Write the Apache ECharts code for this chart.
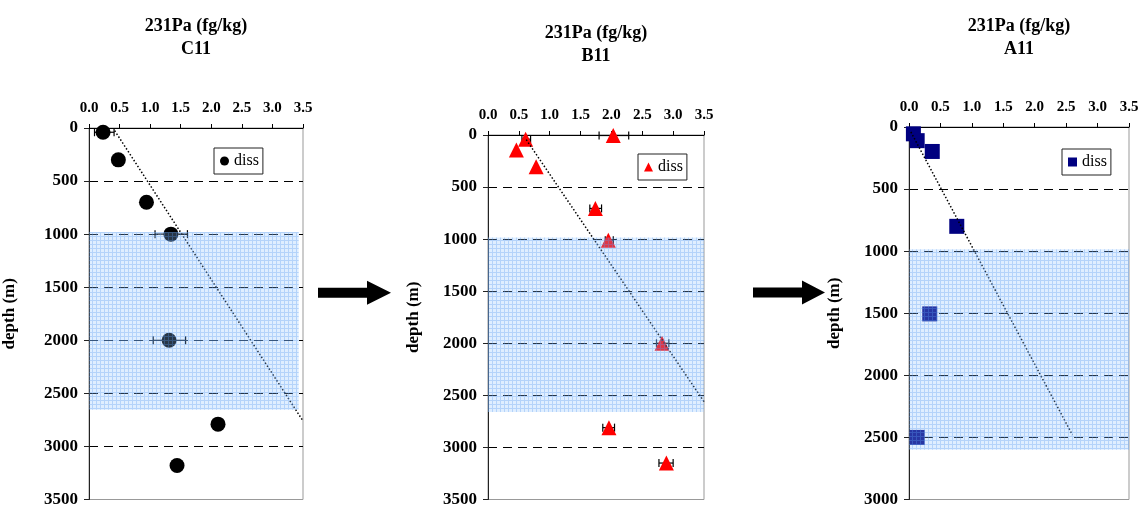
<!DOCTYPE html>
<html>
<head>
<meta charset="utf-8">
<script src="https://cdn.jsdelivr.net/npm/echarts@6/dist/echarts.min.js"></script>
<style>
html,body{margin:0;padding:0;background:#fff;}
#c{width:1143px;height:508px;}
</style>
</head>
<body>
<div id="c"></div>
<script>
// ---------- data ----------
const xTicks = [0, 0.5, 1, 1.5, 2, 2.5, 3, 3.5];

const C11_x = [0.23, 0.48, 0.94, 1.34, 1.31, 2.11, 1.44];
const C11_depth = [40, 300, 700, 1000, 2000, 2790, 3180];
const C11_errDepth = [40, 1000, 2000];
const C11_errLow = [0.09, 1.08, 1.05];
const C11_errHigh = [0.41, 1.61, 1.58];
const C11_trendX = [0.42, 3.5];
const C11_trendDepth = [25, 2760];
const C11_shade = [0, 3.43, 980, 2655];

const B11_x = [2.03, 0.61, 0.46, 0.78, 1.74, 1.95, 2.82, 1.96, 2.89];
const B11_depth = [5, 40, 145, 305, 705, 1010, 2000, 2810, 3150];
const B11_errDepth = [5, 40, 705, 1010, 2000, 2810, 3150];
const B11_errLow = [1.80, 0.55, 1.65, 1.90, 2.73, 1.86, 2.77];
const B11_errHigh = [2.28, 0.69, 1.84, 2.03, 2.93, 2.05, 3.00];
const B11_trendX = [0.62, 3.5];
const B11_trendDepth = [45, 2560];
const B11_shade = [0, 3.5, 985, 2660];

const A11_x = [0.07, 0.13, 0.37, 0.76, 0.33, 0.13];
const A11_depth = [55, 110, 197, 800, 1505, 2500];
const A11_trendX = [0.03, 2.6];
const A11_trendDepth = [40, 2480];
const A11_shade = [0, 3.5, 985, 2600];

const stations = ['C11', 'B11', 'A11'];

// ---------- helpers ----------
const FONT = 'Liberation Serif';
const zip2 = (a, b) => a.map((v, i) => [v, b[i]]);
const zip3 = (a, b, c) => a.map((v, i) => [v, b[i], c[i]]);

// shading pattern
const pc = document.createElement('canvas');
pc.width = 4; pc.height = 4;
const pctx = pc.getContext('2d');
pctx.fillStyle = 'rgba(140,195,255,0.28)';
pctx.fillRect(0, 0, 4, 4);
pctx.fillStyle = 'rgba(90,155,240,0.32)';
pctx.fillRect(0, 0, 4, 1);
pctx.fillRect(0, 1, 1, 3);
const shadeFill = { image: pc, repeat: 'repeat' };

function errRender(params, api) {
  const d = api.value(0), lo = api.value(1), hi = api.value(2);
  const a = api.coord([lo, d]), b = api.coord([hi, d]);
  const h = 4;
  const st = { stroke: '#000', lineWidth: 1.2 };
  return {
    type: 'group',
    children: [
      { type: 'line', shape: { x1: a[0], y1: a[1], x2: b[0], y2: b[1] }, style: st },
      { type: 'line', shape: { x1: a[0], y1: a[1] - h, x2: a[0], y2: a[1] + h }, style: st },
      { type: 'line', shape: { x1: b[0], y1: b[1] - h, x2: b[0], y2: b[1] + h }, style: st }
    ]
  };
}
function shadeRender(params, api) {
  const p1 = api.coord([api.value(0), api.value(2)]);
  const p2 = api.coord([api.value(1), api.value(3)]);
  return {
    type: 'rect',
    shape: { x: p1[0], y: p1[1], width: p2[0] - p1[0], height: p2[1] - p1[1] },
    style: { fill: shadeFill }
  };
}

const grids = [
  { left: 89, top: 128, width: 214, height: 373 },
  { left: 488, top: 135, width: 216, height: 366 },
  { left: 909, top: 127, width: 220, height: 374 }
];
const yMax = [3500, 3500, 3000];
const nameGapX = [67, 67.5, 66];
const nameGapY = [71, 65.5, 66];

const xAxes = grids.map((g, i) => ({
  type: 'value', gridIndex: i, position: 'top',
  min: 0, max: 3.5, interval: 0.5,
  name: '231Pa (fg/kg)\n' + stations[i],
  nameLocation: 'middle', nameGap: nameGapX[i],
  nameTextStyle: { fontFamily: FONT, fontSize: 18, fontWeight: 'bold', color: '#000', lineHeight: 23 },
  axisLine: { show: true, lineStyle: { color: '#000', width: 1 } },
  axisTick: { show: true, inside: false, length: 4, lineStyle: { color: '#000' } },
  axisLabel: { fontFamily: FONT, fontSize: 15, fontWeight: 'bold', color: '#000', margin: 12,
    formatter: v => v.toFixed(1) },
  splitLine: { show: false }
}));
const yAxes = grids.map((g, i) => ({
  type: 'value', gridIndex: i, inverse: true,
  min: 0, max: yMax[i], interval: 500,
  name: 'depth (m)', nameLocation: 'middle', nameGap: nameGapY[i],
  nameTextStyle: { fontFamily: FONT, fontSize: 17, fontWeight: 'bold', color: '#000' },
  axisLine: { show: true, lineStyle: { color: '#222', width: 1 } },
  axisTick: { show: true, inside: false, length: 5, lineStyle: { color: '#222' } },
  axisLabel: { fontFamily: FONT, fontSize: 17, fontWeight: 'bold', color: '#000', margin: 11,
    formatter: v => String(v) },
  splitLine: { show: true, showMinLine: false, showMaxLine: false,
    lineStyle: { color: '#000', type: [9, 6], width: 1 } }
}));

const sets = [
  { x: C11_x, d: C11_depth, eD: C11_errDepth, eL: C11_errLow, eH: C11_errHigh, tX: C11_trendX, tD: C11_trendDepth, sh: C11_shade, sym: 'circle', size: 15, color: '#000' },
  { x: B11_x, d: B11_depth, eD: B11_errDepth, eL: B11_errLow, eH: B11_errHigh, tX: B11_trendX, tD: B11_trendDepth, sh: B11_shade, sym: 'triangle', size: 15, color: '#ff0000' },
  { x: A11_x, d: A11_depth, eD: [], eL: [], eH: [], tX: A11_trendX, tD: A11_trendDepth, sh: A11_shade, sym: 'rect', size: 15, color: '#000080' }
];

const series = [];
sets.forEach((s, i) => {
  series.push({
    type: 'custom', xAxisIndex: i, yAxisIndex: i, z: 2, silent: true,
    renderItem: errRender, encode: { x: [1, 2], y: 0 },
    data: zip3(s.eD, s.eL, s.eH)
  });
  series.push({
    name: stations[i] + ' diss', type: 'scatter', xAxisIndex: i, yAxisIndex: i, z: 3,
    symbol: s.sym, symbolSize: s.size, itemStyle: { color: s.color, opacity: 1 },
    data: zip2(s.x, s.d)
  });
  series.push({
    type: 'line', xAxisIndex: i, yAxisIndex: i, z: 4, symbol: 'none', silent: true,
    lineStyle: { color: '#000', width: 1.5, type: [1.5, 2] },
    data: zip2(s.tX, s.tD)
  });
  series.push({
    type: 'custom', xAxisIndex: i, yAxisIndex: i, z: 10, silent: true,
    renderItem: shadeRender, encode: { x: [0, 1], y: [2, 3] },
    data: [s.sh]
  });
});

const legendPos = [
  { left: 214, top: 148 },
  { left: 638, top: 154 },
  { left: 1062, top: 149 }
];
const legends = legendPos.map((p, i) => ({
  left: p.left, top: p.top, data: [stations[i] + ' diss'],
  formatter: () => 'diss',
  orient: 'vertical', backgroundColor: '#fff',
  borderColor: '#222', borderWidth: 1, padding: [5, 4, 5, 6],
  itemWidth: 9, itemHeight: 9, selectedMode: false,
  textStyle: { fontFamily: FONT, fontSize: 16, color: '#000', lineHeight: 16 }
}));

const arrow = (x0, xh, x1, yc) => ({
  type: 'polygon', silent: true,
  shape: { points: [[x0, yc - 5], [xh, yc - 5], [xh, yc - 12], [x1, yc], [xh, yc + 12], [xh, yc + 5], [x0, yc + 5]] },
  style: { fill: '#000' }
});

const chart = echarts.init(document.getElementById('c'), null, { renderer: 'canvas' });
chart.setOption({
  animation: false,
  backgroundColor: '#fff',
  grid: grids.map(g => Object.assign({ show: true, borderColor: '#999', borderWidth: 1, backgroundColor: 'transparent' }, g)),
  xAxis: xAxes,
  yAxis: yAxes,
  legend: legends,
  series: series,
  graphic: [arrow(318, 367, 391, 292.7), arrow(753, 802, 825, 292.5)]
});
</script>
</body>
</html>
